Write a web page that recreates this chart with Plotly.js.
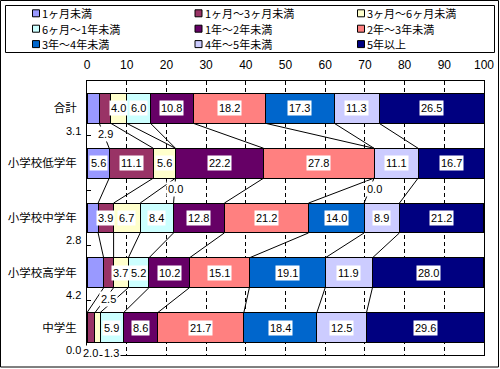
<!DOCTYPE html>
<html>
<head>
<meta charset="utf-8">
<script src="https://cdn.plot.ly/plotly-3.0.1.min.js"></script>
<style>html,body{margin:0;padding:0;background:#fff;}#chart{width:500px;height:369px;}</style>
</head>
<body>
<div id="chart"></div>
<script>
// ---- data ----
const categories = ['合計', '小学校低学年', '小学校中学年', '小学校高学年', '中学生'];
const seriesNames = ['1ヶ月未満', '1ヶ月～3ヶ月未満', '3ヶ月～6ヶ月未満', '6ヶ月～1年未満', '1年～2年未満', '2年～3年未満', '3年～4年未満', '4年～5年未満', '5年以上'];
const under1m   = [3.1, 5.6, 2.8, 4.2, 0.0];
const m1to3     = [2.9, 11.1, 3.9, 2.5, 2.0];
const m3to6     = [4.0, 5.6, 6.7, 3.7, 1.3];
const m6to1y    = [6.0, 0.0, 8.4, 5.2, 5.9];
const y1to2     = [10.8, 22.2, 12.8, 10.2, 8.6];
const y2to3     = [18.2, 27.8, 21.2, 15.1, 21.7];
const y3to4     = [17.3, 0.0, 14.0, 19.1, 18.4];
const y4to5     = [11.3, 11.1, 8.9, 11.9, 12.5];
const y5plus    = [26.5, 16.7, 21.2, 28.0, 29.6];
const xTickVals = [0, 10, 20, 30, 40, 50, 60, 70, 80, 90, 100];

const seriesValues = [under1m, m1to3, m3to6, m6to1y, y1to2, y2to3, y3to4, y4to5, y5plus];
const colors = ['#9999FF', '#993366', '#FFFFCC', '#CCFFFF', '#660066', '#FF8080', '#0066CC', '#CCCCFF', '#000080'];

// ---- geometry helpers (layout) ----
const W = 500, H = 369;
const M = {l: 87, r: 16, t: 81, b: 14};
const PW = W - M.l - M.r, PH = H - M.t - M.b;
const px = x => (x - M.l) / PW;          // pixel -> paper x
const py = y => (H - M.b - y) / PH;      // pixel -> paper y
const barW = 0.545;
const rowPos = categories.map((_, i) => i);

// cumulative ends
const cumEnd = seriesValues.map(() => []);
categories.forEach((_, c) => {
  let s = 0;
  seriesValues.forEach((vals, k) => { s += vals[c]; cumEnd[k][c] = s; });
});

const traces = [];
seriesValues.forEach((vals, k) => {
  traces.push({
    type: 'bar', orientation: 'h', name: seriesNames[k],
    x: vals, y: rowPos, width: barW,
    marker: {color: colors[k], line: {color: '#000', width: 1}},
    hoverinfo: 'skip', showlegend: false
  });
});

// series lines
for (let k = 0; k < seriesValues.length - 1; k++) {
  const lx = [], ly = [];
  for (let c = 0; c < categories.length - 1; c++) {
    lx.push(cumEnd[k][c], cumEnd[k][c + 1], null);
    ly.push(rowPos[c] + barW / 2, rowPos[c + 1] - barW / 2, null);
  }
  traces.push({type: 'scatter', mode: 'lines', x: lx, y: ly,
    line: {color: '#000', width: 1}, hoverinfo: 'skip', showlegend: false});
}

// data labels
const annotations = [];
const labelFont = {family: 'Liberation Sans, Arial, sans-serif', size: 11, color: '#000'};
categories.forEach((_, c) => {
  let start = 0;
  let prevOut = null;
  seriesValues.forEach((vals, k) => {
    const v = vals[c];
    const mid = start + v / 2;
    const inside = k === 0 ? v >= 5 : v >= 3.5;
    const base = {text: v.toFixed(1), showarrow: false, bgcolor: '#fff', borderpad: 1, font: labelFont, xref: 'x', yref: 'y'};
    if (inside) {
      annotations.push(Object.assign({}, base, {x: mid, y: rowPos[c]}));
    } else if (k === 0) {
      annotations.push(Object.assign({}, base, {x: 0, y: rowPos[c] + 0.41, xanchor: 'right', xshift: -4}));
    } else {
      let shift = 0;
      const minSep = 21;
      if (prevOut !== null && (mid - prevOut) * PW / 100 < minSep) shift = minSep - (mid - prevOut) * PW / 100;
      annotations.push(Object.assign({}, base, {x: mid, y: rowPos[c] + 0.47, xshift: shift}));
      prevOut = mid + shift * 100 / PW;
    }
    start += v;
  });
});

// legend (custom, Excel-like compact grid)
const shapes = [];
const legFont = {family: 'Noto Sans CJK JP, sans-serif', size: 11, color: '#000'};
seriesNames.forEach((name, i) => {
  const col = i % 3, row = Math.floor(i / 3);
  const cx = 36 + col * 162.5, cy = 13.3 + row * 15.4;
  shapes.push({type: 'rect', xref: 'paper', yref: 'paper',
    x0: px(cx - 3.5), x1: px(cx + 3.5), y0: py(cy + 3.5), y1: py(cy - 3.5),
    fillcolor: colors[i], line: {color: '#000', width: 1}});
  annotations.push({text: name, xref: 'paper', yref: 'paper', x: px(cx + 5), y: py(cy),
    xanchor: 'left', yanchor: 'middle', showarrow: false, font: legFont, borderpad: 0});
});
shapes.push({type: 'rect', xref: 'paper', yref: 'paper', x0: px(5.5), x1: px(494.5), y0: py(52.5), y1: py(5.5),
  line: {color: '#000', width: 1}, fillcolor: 'rgba(0,0,0,0)', layer: 'above'});
shapes.push({type: 'rect', xref: 'paper', yref: 'paper', x0: px(0.5), x1: px(498.5), y0: py(367), y1: py(0.5),
  line: {color: '#000', width: 1}, fillcolor: 'rgba(0,0,0,0)', layer: 'above'});

const layout = {
  width: W, height: H,
  margin: M,
  paper_bgcolor: '#fff', plot_bgcolor: '#fff',
  barmode: 'stack',
  showlegend: false,
  xaxis: {
    side: 'top', range: [0, 100], tickmode: 'array', tickvals: xTickVals,
    ticks: '', ticklabelstandoff: 6,
    tickfont: {family: 'Liberation Sans, Arial, sans-serif', size: 12, color: '#000'},
    showgrid: true, gridcolor: '#000', gridwidth: 1, griddash: '4px,3px',
    showline: true, mirror: true, linecolor: '#000', linewidth: 1, zeroline: false, fixedrange: true
  },
  yaxis: {
    range: [4.5, -0.5], tickmode: 'array', tickvals: rowPos, ticktext: categories,
    ticks: '', ticklabelstandoff: 7,
    tickfont: {family: 'Noto Sans CJK JP, sans-serif', size: 11.5, color: '#000'},
    showgrid: false, zeroline: false,
    showline: true, mirror: true, linecolor: '#000', linewidth: 1,
    minor: {tickmode: 'array', tickvals: [0.5, 1.5, 2.5, 3.5], ticks: 'inside', ticklen: 4, tickcolor: '#000', tickwidth: 1, showgrid: false},
    fixedrange: true
  },
  annotations: annotations,
  shapes: shapes
};

Plotly.newPlot('chart', traces, layout, {staticPlot: true, displayModeBar: false});
</script>
</body>
</html>
